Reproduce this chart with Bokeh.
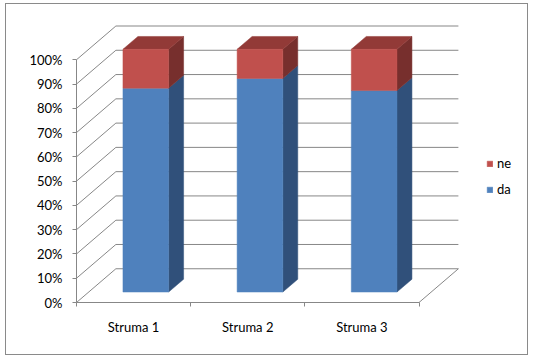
from bokeh.plotting import figure
from bokeh.models import (FixedTicker, PrintfTickFormatter, Legend, LegendItem,
                          LinearAxis, Range1d, ColumnDataSource)
from bokeh.embed import file_html
from bokeh.resources import INLINE

# ---- data ----
categories = ["Struma 1", "Struma 2", "Struma 3"]
da = [84, 88, 83]
ne = [16, 12, 17]
y_ticks = [0, 10, 20, 30, 40, 50, 60, 70, 80, 90, 100]

# ---- pseudo-3D layout (style) ----
DX, DY = 0.345, 13.9        # depth offset in data units
F0, F1 = 0.31, 0.69         # bar front/back depth fraction
BL, BR = 0.3, 0.7           # bar left/right within category
GRID = "#878787"
FONT = "Lato"

n = len(categories)
p = figure(width=521, height=350, x_range=Range1d(0, 3.959),
           y_range=Range1d(0, 114.52),
           x_axis_type=None, y_axis_type=None,
           output_backend="svg", toolbar_location=None,
           min_border_left=70, min_border_right=1, min_border_top=20, min_border_bottom=54)
p.outline_line_color = None
p.background_fill_color = "white"
p.border_fill_color = "white"
p.styles = {"border": "1px solid #8a8a8a", "box-sizing": "content-box",
            "margin-left": "5px", "margin-top": "3px"}

# axes
yaxis = LinearAxis(ticker=FixedTicker(ticks=y_ticks), formatter=PrintfTickFormatter(format="%d%%"),
                   bounds=(0, 100))
yaxis.axis_line_color = GRID
yaxis.major_tick_line_color = GRID
yaxis.major_tick_out = 4
yaxis.major_tick_in = 0
yaxis.major_label_standoff = 10
yaxis.major_label_text_font = FONT
yaxis.major_label_text_font_size = "13px"
yaxis.major_label_text_color = "#000000"
p.add_layout(yaxis, "left")

centers = [i + 0.5 for i in range(n)]
xaxis = LinearAxis(ticker=FixedTicker(ticks=centers, minor_ticks=list(range(n + 1))),
                   major_label_overrides={c: lab for c, lab in zip(centers, categories)},
                   bounds=(0, n))
xaxis.axis_line_color = GRID
xaxis.major_tick_line_color = None
xaxis.major_tick_out = 0
xaxis.major_tick_in = 0
xaxis.minor_tick_line_color = GRID
xaxis.minor_tick_out = 4
xaxis.minor_tick_in = 0
xaxis.major_label_standoff = 12
xaxis.major_label_text_font = FONT
xaxis.major_label_text_font_size = "13px"
xaxis.major_label_text_color = "#000000"
p.add_layout(xaxis, "below")

# walls / gridlines
back = ColumnDataSource(dict(x0=[DX] * len(y_ticks), x1=[n + DX] * len(y_ticks),
                             y0=[v + DY for v in y_ticks], y1=[v + DY for v in y_ticks]))
p.segment("x0", "y0", "x1", "y1", source=back, line_color=GRID, line_width=1)
diag = ColumnDataSource(dict(x0=[0] * len(y_ticks), x1=[DX] * len(y_ticks),
                             y0=y_ticks, y1=[v + DY for v in y_ticks]))
p.segment("x0", "y0", "x1", "y1", source=diag, line_color=GRID, line_width=1)
p.segment(x0=[n], y0=[0], x1=[n + DX], y1=[DY], line_color=GRID, line_width=1)

# bars
def faces(lo, hi):
    fl = [i + BL + F0 * DX for i in range(n)]
    fr = [i + BR + F0 * DX for i in range(n)]
    fb = [l + F0 * DY for l in lo]
    ft = [h + F0 * DY for h in hi]
    side_xs = [[i + BR + F0 * DX, i + BR + F1 * DX, i + BR + F1 * DX, i + BR + F0 * DX] for i in range(n)]
    side_ys = [[l + F0 * DY, l + F1 * DY, h + F1 * DY, h + F0 * DY] for l, h in zip(lo, hi)]
    top_xs = [[i + BL + F0 * DX, i + BL + F1 * DX, i + BR + F1 * DX, i + BR + F0 * DX] for i in range(n)]
    top_ys = [[h + F0 * DY, h + F1 * DY, h + F1 * DY, h + F0 * DY] for h in hi]
    return fl, fr, fb, ft, side_xs, side_ys, top_xs, top_ys

lo_da = [0] * n
hi_da = da
lo_ne = da
hi_ne = [a + b for a, b in zip(da, ne)]

fl, fr, fb, ft, sx, sy, tx, ty = faces(lo_da, hi_da)
p.patches(sx, sy, fill_color="#30507A", line_color="#30507A", line_width=0.5)
da_front = p.quad(left=fl, right=fr, bottom=fb, top=ft, fill_color="#4F81BD", line_color="#4F81BD", line_width=0.5)

fl, fr, fb, ft, sx, sy, tx, ty = faces(lo_ne, hi_ne)
p.patches(sx, sy, fill_color="#772F2D", line_color="#772F2D", line_width=0.5)
p.patches(tx, ty, fill_color="#923A37", line_color="#923A37", line_width=0.5)
ne_front = p.quad(left=fl, right=fr, bottom=fb, top=ft, fill_color="#C0504D", line_color="#C0504D", line_width=0.5)

legend = Legend(items=[LegendItem(label="ne", renderers=[ne_front]),
                       LegendItem(label="da", renderers=[da_front])],
                location=(410, 105), orientation="vertical")
legend.border_line_color = None
legend.background_fill_alpha = 0
legend.padding = 0
legend.margin = 0
legend.glyph_width = 7
legend.glyph_height = 7
legend.label_height = 16
legend.spacing = 10
legend.label_standoff = 4
legend.label_text_font = FONT
legend.label_text_font_size = "13px"
legend.label_text_color = "#000000"
p.add_layout(legend)

open("out.html", "w").write(file_html(p, INLINE))
